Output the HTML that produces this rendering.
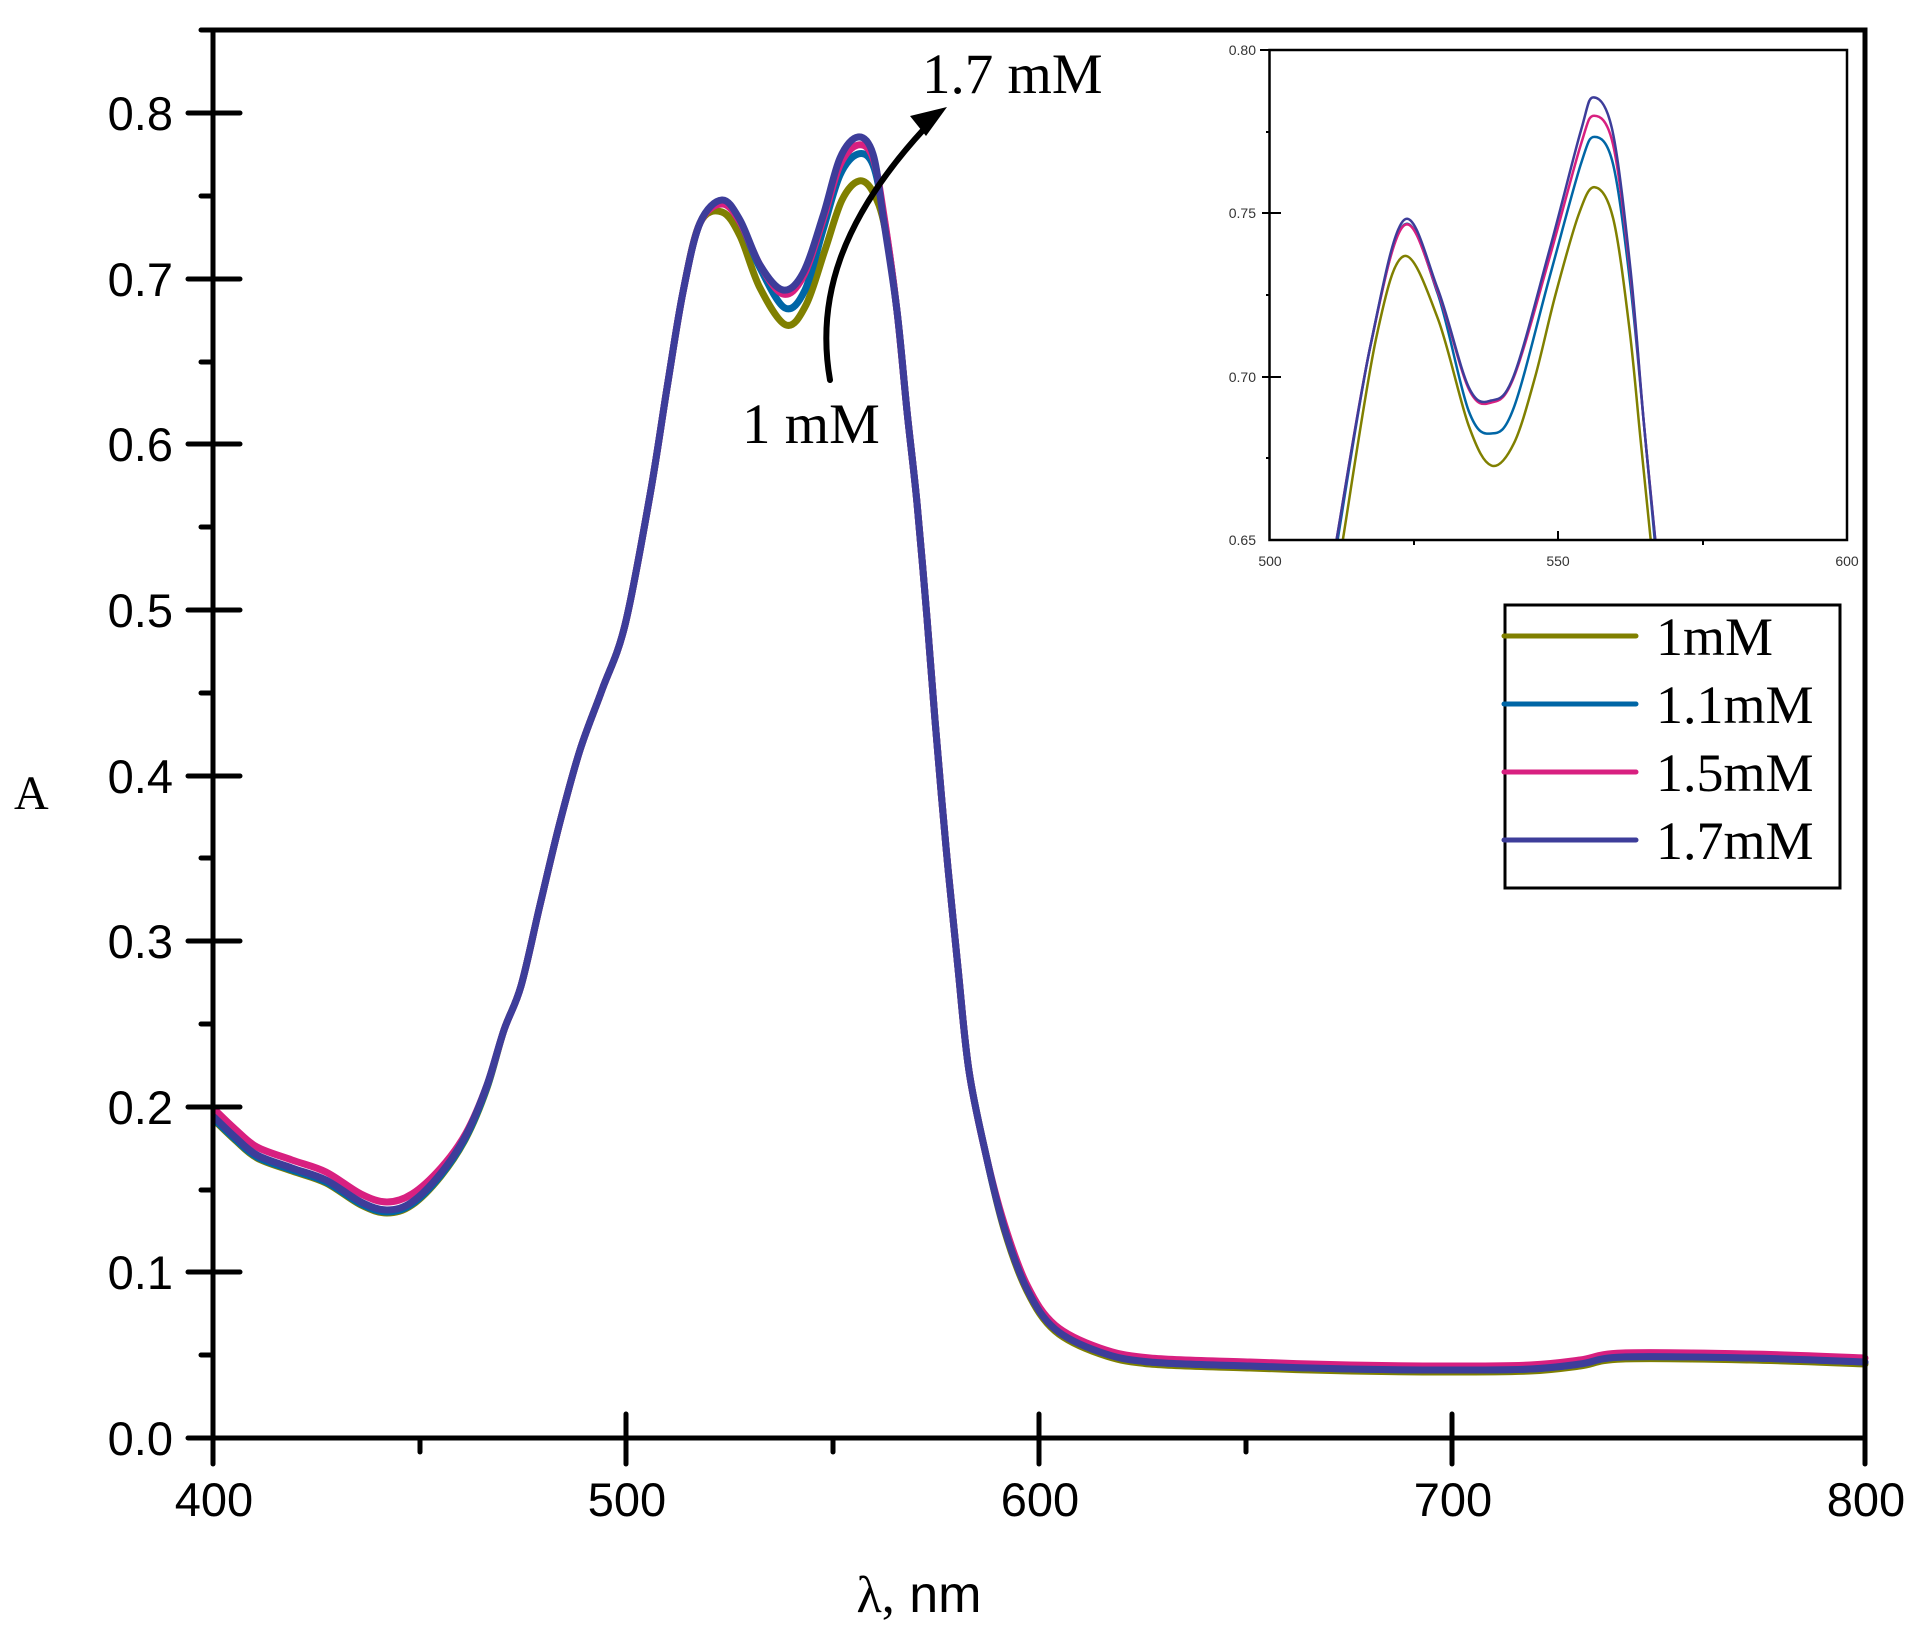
<!DOCTYPE html>
<html><head><meta charset="utf-8">
<style>
html,body{margin:0;padding:0;background:#fff;}
svg{display:block;}
</style></head>
<body>
<svg id="s" width="1930" height="1638" viewBox="0 0 1930 1638" xmlns="http://www.w3.org/2000/svg">
<rect width="1930" height="1638" fill="#fff"/>
<g id="main" fill="none" stroke-linecap="round" stroke-linejoin="round"></g>
<rect x="213" y="30" width="1652" height="1408" fill="none" stroke="#000" stroke-width="5"/>
<g stroke="#000" stroke-width="5" stroke-linecap="round">
<line x1="188" y1="1438" x2="213" y2="1438"/>
<line x1="188" y1="1272" x2="240" y2="1272"/>
<line x1="188" y1="1107" x2="240" y2="1107"/>
<line x1="188" y1="941" x2="240" y2="941"/>
<line x1="188" y1="776" x2="240" y2="776"/>
<line x1="188" y1="610" x2="240" y2="610"/>
<line x1="188" y1="444" x2="240" y2="444"/>
<line x1="188" y1="279" x2="240" y2="279"/>
<line x1="188" y1="113" x2="240" y2="113"/>
<line x1="201" y1="1355" x2="213" y2="1355"/>
<line x1="201" y1="1190" x2="213" y2="1190"/>
<line x1="201" y1="1024" x2="213" y2="1024"/>
<line x1="201" y1="858" x2="213" y2="858"/>
<line x1="201" y1="693" x2="213" y2="693"/>
<line x1="201" y1="527" x2="213" y2="527"/>
<line x1="201" y1="362" x2="213" y2="362"/>
<line x1="201" y1="196" x2="213" y2="196"/>
<line x1="201" y1="30" x2="213" y2="30"/>
<line x1="213" y1="1438" x2="213" y2="1464"/>
<line x1="626" y1="1414" x2="626" y2="1464"/>
<line x1="1039" y1="1414" x2="1039" y2="1464"/>
<line x1="1452" y1="1414" x2="1452" y2="1464"/>
<line x1="1865" y1="1438" x2="1865" y2="1464"/>
<line x1="420" y1="1438" x2="420" y2="1452"/>
<line x1="833" y1="1438" x2="833" y2="1452"/>
<line x1="1246" y1="1438" x2="1246" y2="1452"/>
</g>
<g font-family="Liberation Sans, Arial, sans-serif" font-size="47" fill="#000">
<g text-anchor="end">
<text x="173" y="1455">0.0</text>
<text x="173" y="1289">0.1</text>
<text x="173" y="1124">0.2</text>
<text x="173" y="958">0.3</text>
<text x="173" y="793">0.4</text>
<text x="173" y="627">0.5</text>
<text x="173" y="461">0.6</text>
<text x="173" y="296">0.7</text>
<text x="173" y="130">0.8</text>
</g>
<g text-anchor="middle">
<text x="214" y="1516">400</text>
<text x="627" y="1516">500</text>
<text x="1040" y="1516">600</text>
<text x="1453" y="1516">700</text>
<text x="1866" y="1516">800</text>
</g>
</g>
<g font-family="Liberation Serif, Times New Roman, serif" fill="#000">
<text x="14" y="809" font-size="48">A</text>
<text x="919" y="1612" font-size="52" text-anchor="middle">λ,<tspan font-family="Liberation Sans, Arial, sans-serif"> nm</tspan></text>
<text x="922" y="93" font-size="57">1.7 mM</text>
<text x="742" y="443" font-size="57">1 mM</text>
</g>
<path d="M830,380 C816,300 840,220 925,128" fill="none" stroke="#000" stroke-width="6" stroke-linecap="round"/>
<polygon points="947,107 910,116 926,136" fill="#000"/>
<g id="inset" fill="none" stroke-linejoin="round"></g>
<rect x="1269.5" y="50" width="577.5" height="490" fill="none" stroke="#000" stroke-width="2.5"/>
<g stroke="#000" stroke-width="2">
<line x1="1260" y1="50" x2="1269" y2="50"/>
<line x1="1262" y1="213" x2="1281" y2="213"/>
<line x1="1262" y1="377" x2="1281" y2="377"/>
<line x1="1266" y1="132" x2="1269" y2="132"/>
<line x1="1266" y1="295" x2="1269" y2="295"/>
<line x1="1266" y1="458" x2="1269" y2="458"/>
<line x1="1558" y1="531" x2="1558" y2="540"/>
<line x1="1414" y1="540" x2="1414" y2="545"/>
<line x1="1703" y1="540" x2="1703" y2="545"/>
</g>
<g font-family="Liberation Sans, Arial, sans-serif" font-size="14" fill="#333">
<g text-anchor="end">
<text x="1256" y="55">0.80</text>
<text x="1256" y="218">0.75</text>
<text x="1256" y="382">0.70</text>
<text x="1256" y="545">0.65</text>
</g>
<g text-anchor="middle">
<text x="1270" y="566">500</text>
<text x="1558" y="566">550</text>
<text x="1847" y="566">600</text>
</g>
</g>
<rect x="1505" y="605" width="335" height="283" fill="#fff" stroke="#000" stroke-width="3"/>
<g stroke-width="5" stroke-linecap="round">
<line x1="1504" y1="636" x2="1636" y2="636" stroke="#808000"/>
<line x1="1504" y1="704" x2="1636" y2="704" stroke="#0066a6"/>
<line x1="1504" y1="772" x2="1636" y2="772" stroke="#d82080"/>
<line x1="1504" y1="840" x2="1636" y2="840" stroke="#3d3d9a"/>
</g>
<g font-family="Liberation Serif, Times New Roman, serif" font-size="54" fill="#000">
<text x="1656" y="655">1mM</text>
<text x="1656" y="723">1.1mM</text>
<text x="1656" y="791">1.5mM</text>
<text x="1656" y="859">1.7mM</text>
</g>
</svg>
<script>
function cr(p){
  var d="M"+p[0][0]+","+p[0][1];
  for(var i=0;i<p.length-1;i++){
    var p0=p[i>0?i-1:i],p1=p[i],p2=p[i+1],p3=p[i+2<p.length?i+2:i+1];
    var c1x=p1[0]+(p2[0]-p0[0])/6,c1y=p1[1]+(p2[1]-p0[1])/6;
    var c2x=p2[0]-(p3[0]-p1[0])/6,c2y=p2[1]-(p3[1]-p1[1])/6;
    d+=" C"+c1x.toFixed(1)+","+c1y.toFixed(1)+" "+c2x.toFixed(1)+","+c2y.toFixed(1)+" "+p2[0]+","+p2[1];
  }
  return d;
}
var NS="http://www.w3.org/2000/svg";
function add(g,d,c,w){var e=document.createElementNS(NS,"path");e.setAttribute("d",d);e.setAttribute("stroke",c);e.setAttribute("stroke-width",w);g.appendChild(e);}
var left=[[214,1117],[235,1137],[257,1155],[292,1168],[326,1180],[361,1202],[387,1210],[412,1202],[441,1173],[466,1135],[487,1085],[504,1030],[521,986],[540,905],[560,822],[580,750],[602,690],[625,625],[650,495],[667,388],[683,292],[700,223]];
var right=[[897,311],[907,411],[917,503],[927,618],[935,720],[946,847],[958,968],[969,1071],[986,1155],[1004,1227],[1027,1289],[1055,1329],[1100,1352],[1150,1362],[1250,1366],[1350,1369],[1450,1370],[1530,1369],[1580,1364],[1623,1357],[1750,1358],[1865,1362]];
function shift(a,fn){return a.map(function(p){return [p[0],p[1]+fn(p[0])];});}
var peaks={
 o:[[722,212],[740,236],[760,288],[786,325],[806,305],[825,250],[842,200],[859,181],[873,192],[885,228]],
 b:[[722,202],[740,222],[760,268],[785,308],[805,290],[823,230],[840,175],[858,154],[873,165],[884,218]],
 p:[[722,204],[740,222],[760,265],[783,294],[803,277],[823,220],[840,165],[858,145],[873,158],[884,216]],
 v:[[722,200],[740,220],[760,265],[783,290],[803,273],[823,216],[840,158],[858,137],[873,154],[883,216]]
};
var g=document.getElementById("main");
add(g,cr(shift(left,function(x){return x<490?3:0;}).concat(peaks.o,shift(right,function(x){return x>1000?2:0;}))),"#808000",7);
add(g,cr(shift(left,function(x){return x<490?2:0;}).concat(peaks.b,right)),"#0066a6",7);
add(g,cr(shift(left,function(x){return x<=420?-8:(x<480?-8*(480-x)/60:0);}).concat(peaks.p,shift(right,function(x){return x>1000?-4:0;}))),"#d82080",7);
add(g,cr(left.concat(peaks.v,right)),"#3d3d9a",7);
function ix(l){return 1269.5+(l-500)*5.775;}
function iy(a){return 50+(0.80-a)/0.15*490;}
function ip(arr){return arr.map(function(q){return [+ix(q[0]).toFixed(1),+iy(q[1]).toFixed(1)];});}
var gi=document.getElementById("inset");
add(gi,cr(ip([[512.7,0.65],[518.5,0.712],[523.3,0.7369],[529.1,0.718],[534.5,0.685],[538.4,0.6728],[542.3,0.6795],[546,0.7],[549.5,0.725],[553.5,0.7495],[556.3,0.758],[559.5,0.7485],[562.3,0.715],[564.3,0.68],[566,0.65]])),"#808000",2.5);
add(gi,cr(ip([[511.8,0.65],[517.5,0.7097],[523.3,0.7465],[529.1,0.7255],[534.5,0.6895],[538.4,0.6826],[542.3,0.6905],[548.5,0.7305],[553.9,0.765],[556.3,0.7734],[559.5,0.765],[562.5,0.728],[564.8,0.6863],[566.7,0.65]])),"#0066a6",2.5);
add(gi,cr(ip([[511.6,0.65],[517.5,0.7097],[523.3,0.7463],[529.1,0.7262],[534.5,0.6963],[538.4,0.6921],[542.3,0.6998],[548.5,0.7365],[553.9,0.771],[556.2,0.7799],[559.5,0.771],[562.5,0.7315],[564.8,0.6863],[566.8,0.65]])),"#d82080",2.5);
add(gi,cr(ip([[511.6,0.65],[517.5,0.7097],[523.3,0.748],[529.1,0.727],[534.5,0.6968],[538.4,0.6927],[542.3,0.7003],[548.5,0.7389],[553.9,0.7752],[556.1,0.7855],[559.4,0.7752],[562.5,0.7331],[564.8,0.6863],[566.8,0.65]])),"#3d3d9a",2.5);
</script>
</body></html>
